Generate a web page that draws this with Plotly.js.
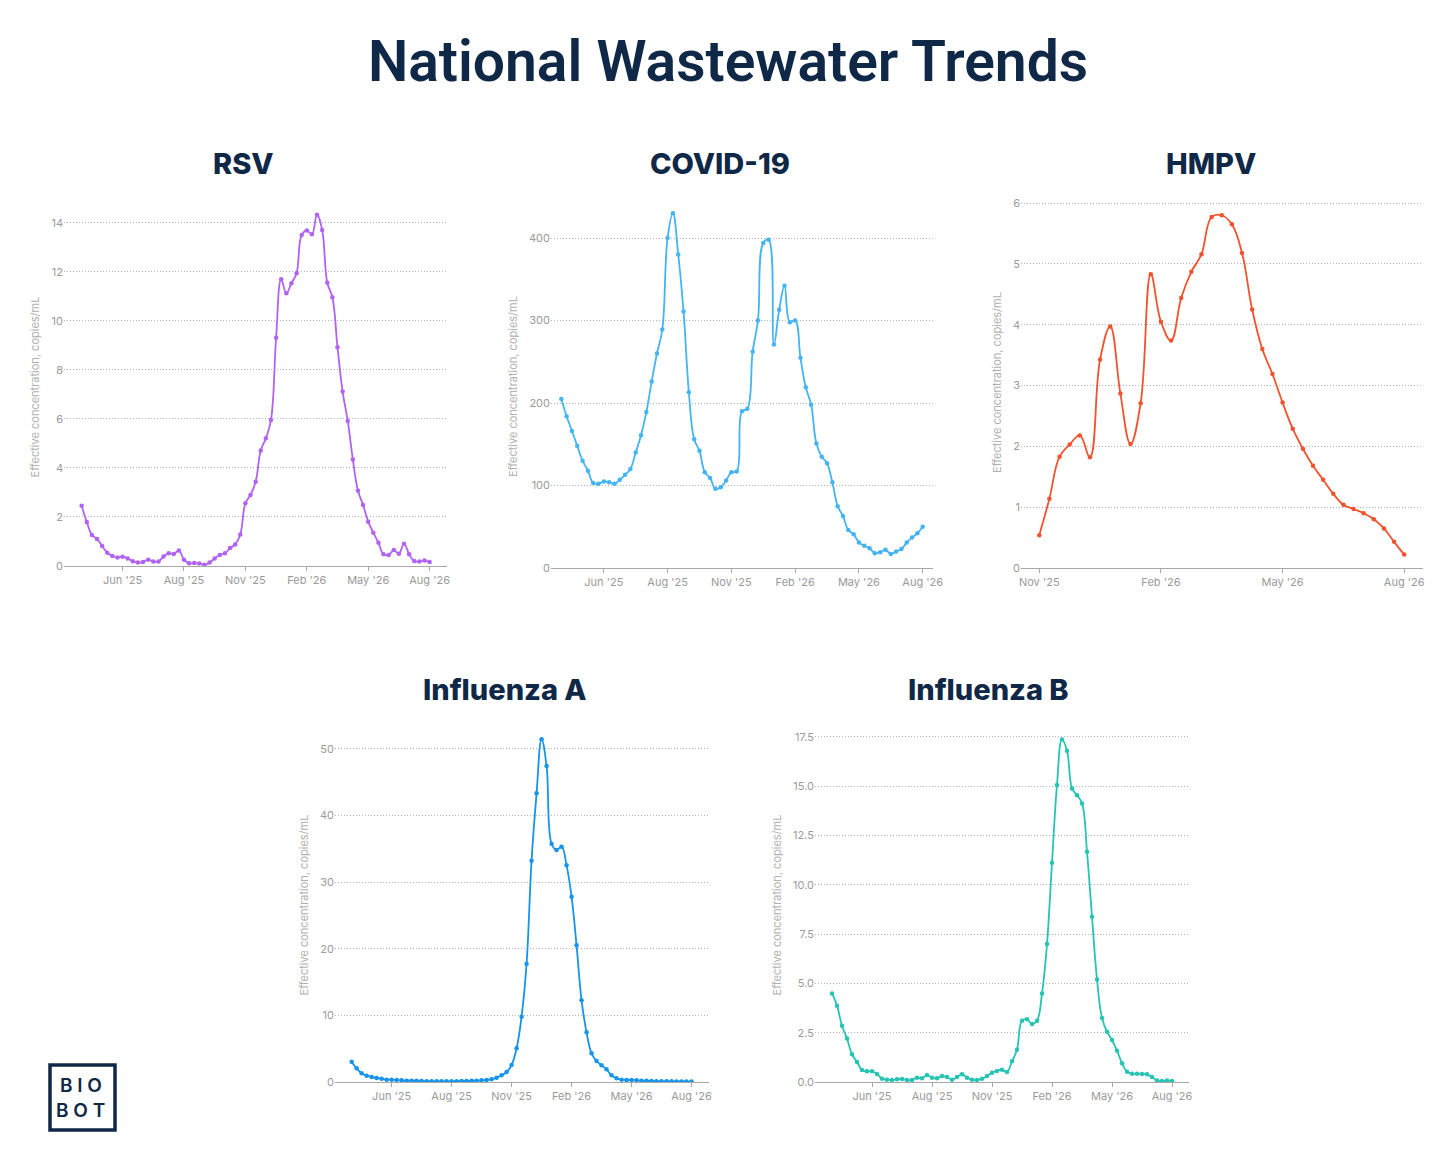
<!DOCTYPE html>
<html>
<head>
<meta charset="utf-8">
<script src="https://cdn.plot.ly/plotly-3.0.1.min.js"></script>
<style>
  html, body { margin: 0; padding: 0; background: #fff; }
  #chart { width: 1456px; height: 1176px; }
</style>
</head>
<body>
<div id="chart"></div>
<script>
// weekly readings, last week is the same for every pathogen
var lastWeek = '2026-08-01';

var rsvValues = [2.46, 1.80, 1.27, 1.10, 0.82, 0.54, 0.41, 0.35, 0.38, 0.31,
  0.19, 0.14, 0.16, 0.26, 0.18, 0.18, 0.39, 0.52, 0.49, 0.63,
  0.26, 0.11, 0.12, 0.10, 0.05, 0.14, 0.31, 0.45, 0.52, 0.73,
  0.88, 1.29, 2.56, 2.90, 3.44, 4.71, 5.21, 5.96, 9.31, 11.70,
  11.13, 11.54, 11.95, 13.51, 13.69, 13.54, 14.33, 13.71, 11.56, 10.97,
  8.93, 7.12, 5.92, 4.35, 3.07, 2.49, 1.81, 1.36, 0.95, 0.48,
  0.45, 0.65, 0.50, 0.91, 0.48, 0.20, 0.18, 0.22, 0.16];

var covidValues = [205, 184, 166, 148, 130, 118, 103, 102, 105, 104,
  102, 107, 113, 120, 140, 161, 189, 226, 260, 289,
  400, 430, 380, 311, 213, 156, 142, 116, 109, 96,
  98, 106, 116, 117, 190, 193, 262, 300, 394, 398,
  271, 313, 342, 298, 300, 255, 219, 198, 151, 135,
  127, 104, 75, 63, 46, 41, 31, 27, 24, 18,
  19, 22, 17, 20, 23, 31, 37, 42, 50];

var hmpvValues = [0.54, 1.14, 1.83, 2.03, 2.18, 1.82, 3.43, 3.97, 2.87, 2.04,
  2.71, 4.83, 4.05, 3.74, 4.44, 4.87, 5.16, 5.77, 5.80, 5.65,
  5.18, 4.25, 3.60, 3.19, 2.72, 2.29, 1.96, 1.68, 1.45, 1.22,
  1.04, 0.97, 0.90, 0.80, 0.65, 0.43, 0.22];

var fluAValues = [3.05, 2.05, 1.3, 0.95, 0.75, 0.6, 0.5, 0.35, 0.35, 0.3,
  0.25, 0.2, 0.2, 0.18, 0.15, 0.12, 0.1, 0.1, 0.1, 0.1,
  0.1, 0.12, 0.15, 0.15, 0.18, 0.2, 0.25, 0.3, 0.4, 0.65,
  1.0, 1.5, 2.55, 5.05, 9.8, 17.75, 33.2, 43.3, 51.4, 47.4,
  35.75, 34.8, 35.3, 32.5, 27.8, 20.5, 12.25, 7.45, 4.3, 3.15,
  2.5, 1.9, 1.0, 0.55, 0.35, 0.3, 0.3, 0.25, 0.2, 0.18,
  0.15, 0.12, 0.1, 0.1, 0.1, 0.08, 0.08, 0.07, 0.07];

var fluBValues = [4.49, 3.87, 2.85, 2.20, 1.40, 1.01, 0.61, 0.54, 0.54, 0.41,
  0.17, 0.12, 0.10, 0.14, 0.15, 0.10, 0.10, 0.22, 0.19, 0.35,
  0.22, 0.19, 0.30, 0.25, 0.12, 0.25, 0.39, 0.22, 0.12, 0.10,
  0.17, 0.30, 0.47, 0.56, 0.62, 0.51, 1.05, 1.64, 3.11, 3.18,
  2.94, 3.11, 4.49, 6.99, 11.11, 15.05, 17.36, 16.79, 14.88, 14.53,
  14.12, 11.67, 8.38, 5.20, 3.24, 2.55, 2.13, 1.59, 0.95, 0.52,
  0.42, 0.42, 0.41, 0.39, 0.25, 0.07, 0.05, 0.07, 0.05];

var tickDates = ['2025-06-07', '2025-08-30', '2025-11-22', '2026-02-14', '2026-05-09', '2026-08-01'];
var tickLabels = ["Jun '25", "Aug '25", "Nov '25", "Feb '26", "May '26", "Aug '26"];

var W = 1456, H = 1176;
var navy = '#0f2847';
var gray = '#9a9a9a';

function pad(n) { return (n < 10 ? '0' : '') + n; }
function fmt(d) {
  return d.getUTCFullYear() + '-' + pad(d.getUTCMonth() + 1) + '-' + pad(d.getUTCDate()) +
    ' ' + pad(d.getUTCHours()) + ':' + pad(d.getUTCMinutes());
}
// date that lies w weeks after the given day (w may be negative or fractional)
function shiftWeeks(day, w) {
  var d = new Date(day + 'T00:00:00Z');
  return fmt(new Date(d.getTime() + w * 7 * 86400000));
}
function weeklyDates(n) {
  var out = [];
  for (var i = 0; i < n; i++) out.push(shiftWeeks(lastWeek, i - (n - 1)).slice(0, 10));
  return out;
}
function px(x) { return x / W; }
function py(y) { return 1 - y / H; }

// pixel boxes of the five panels, plus where each panel title sits
var panels = [
  {name: 'RSV', values: rsvValues, color: '#b163f2', box: [64, 447, 208, 566], title: [244, 163], padL: 3.45, padR: 3.4, ymax: 14.61, dtick: 2, fmt: ''},
  {name: 'COVID-19', values: covidValues, color: '#45b4f2', box: [551, 933, 205, 568], title: [720, 163], padL: 1.94, padR: 1.94, ymax: 440, dtick: 100, fmt: ''},
  {name: 'HMPV', values: hmpvValues, color: '#f1532f', box: [1021, 1423, 197, 568], title: [1211, 163], padL: 1.8, padR: 1.85, ymax: 6.1, dtick: 1, fmt: ''},
  {name: 'Influenza A', values: fluAValues, color: '#1794ea', box: [335, 709, 728, 1082], title: [505, 689], padL: 3.33, padR: 3.5, ymax: 53.1, dtick: 10, fmt: ''},
  {name: 'Influenza B', values: fluBValues, color: '#27c4b3', box: [815, 1189, 728, 1082], title: [988, 689], padL: 3.4, padR: 3.4, ymax: 17.94, dtick: 2.5, fmt: '.1f'}
];

var data = [];
var layout = {
  width: W,
  height: H,
  margin: {l: 0, r: 0, t: 0, b: 0},
  paper_bgcolor: '#fff',
  plot_bgcolor: '#fff',
  showlegend: false,
  font: {family: 'Inter, Roboto, sans-serif', color: gray},
  title: {
    text: 'National Wastewater Trends',
    x: 0.5, xref: 'paper', xanchor: 'center',
    y: py(61), yref: 'paper', yanchor: 'middle',
    font: {family: 'Roboto, sans-serif', size: 57, weight: 600, color: navy}
  },
  annotations: [],
  shapes: []
};

panels.forEach(function (p, i) {
  var n = i + 1;
  var suffix = n === 1 ? '' : String(n);
  var xs = weeklyDates(p.values.length);

  data.push({
    x: xs,
    y: p.values,
    xaxis: 'x' + suffix,
    yaxis: 'y' + suffix,
    type: 'scatter',
    mode: 'lines+markers',
    line: {color: p.color, width: 1.8, shape: 'spline', smoothing: 1.15},
    marker: {color: p.color, size: 4.5},
    hoverinfo: 'x+y'
  });

  layout['xaxis' + suffix] = {
    type: 'date',
    domain: [px(p.box[0]), px(p.box[1])],
    anchor: 'y' + suffix,
    range: [shiftWeeks(xs[0], -p.padL), shiftWeeks(lastWeek, p.padR)],
    tickmode: 'array',
    tickvals: tickDates,
    ticktext: tickLabels,
    showgrid: false,
    zeroline: false,
    showline: true,
    linecolor: '#a8a8a8',
    linewidth: 1,
    ticks: 'outside',
    ticklen: 4,
    tickcolor: '#a8a8a8',
    tickfont: {size: 11, color: gray}
  };

  layout['yaxis' + suffix] = {
    domain: [py(p.box[3]), py(p.box[2])],
    anchor: 'x' + suffix,
    range: [0, p.ymax],
    dtick: p.dtick,
    tick0: 0,
    tickformat: p.fmt,
    showline: false,
    zeroline: false,
    showgrid: true,
    gridcolor: '#b4b4b4',
    griddash: '1px,2px',
    gridwidth: 1,
    ticks: '',
    tickfont: {size: 11, color: gray},
    title: {
      text: 'Effective concentration, copies/mL',
      font: {size: 11, color: '#b0b0b0'},
      standoff: 9
    }
  };

  layout.annotations.push({
    text: p.name,
    xref: 'paper', yref: 'paper',
    x: px(p.title[0]), y: py(p.title[1]),
    xanchor: 'center', yanchor: 'middle',
    showarrow: false,
    font: {family: 'Inter, sans-serif', size: 29, weight: 800, color: navy}
  });
});

// Biobot logo box
layout.shapes.push({
  type: 'rect', xref: 'paper', yref: 'paper',
  x0: px(50), x1: px(115), y0: py(1130), y1: py(1065),
  line: {color: navy, width: 3.5}, fillcolor: 'rgba(0,0,0,0)'
});
layout.annotations.push({
  text: 'B I O', xref: 'paper', yref: 'paper', x: px(81), y: py(1085),
  xanchor: 'center', yanchor: 'middle', showarrow: false,
  font: {family: 'Inter, sans-serif', size: 19, weight: 600, color: navy}
});
layout.annotations.push({
  text: 'B O T', xref: 'paper', yref: 'paper', x: px(80), y: py(1110),
  xanchor: 'center', yanchor: 'middle', showarrow: false,
  font: {family: 'Inter, sans-serif', size: 19, weight: 600, color: navy}
});

var config = {displayModeBar: false, responsive: false};

Plotly.newPlot('chart', data, layout, config);
</script>
</body>
</html>
